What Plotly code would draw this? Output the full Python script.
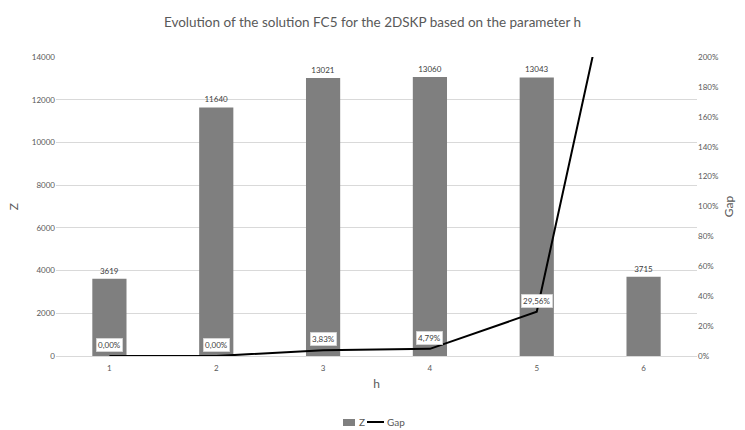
import plotly.graph_objects as go

# Values per parameter h
h_values = [1, 2, 3, 4, 5, 6]
h_labels = ["1", "2", "3", "4", "5", "6"]
z_values = [3619, 11640, 13021, 13060, 13043, 3715]
gap_values = [0.0, 0.0, 0.0383, 0.0479, 0.2956, 3.56]

GAP_MAX = 2.0
FONT = "Lato, 'Open Sans', sans-serif"
TEXT_COLOR = "#595959"
BAR_COLOR = "#7f7f7f"

W, H = 745, 430
M_L, M_R, M_T, M_B = 56, 48, 57, 74
PLOT_W = W - M_L - M_R
PLOT_H = H - M_T - M_B


def px_to_paper(px, py):
    return (px - M_L) / PLOT_W, (H - M_B - py) / PLOT_H


fig = go.Figure()

fig.add_trace(go.Bar(
    x=h_values, y=z_values, name="Z",
    marker=dict(color=BAR_COLOR, line=dict(width=0)),
    width=0.32,
    text=[str(v) for v in z_values],
    textposition="outside",
    textfont=dict(size=8, color="#404040", family=FONT),
    cliponaxis=False,
    showlegend=False,
))

fig.add_trace(go.Scatter(
    x=h_values, y=gap_values, name="Gap", yaxis="y2",
    mode="lines", line=dict(color="#000000", width=2),
    showlegend=False,
))

# Boxed value labels on the Gap line (only those inside the visible range)
for xv, gv in zip(h_values, gap_values):
    if gv <= GAP_MAX:
        fig.add_annotation(
            x=xv, y=gv, xref="x", yref="y2",
            text=f"{gv * 100:.2f}".replace(".", ",") + "%",
            showarrow=False, yshift=11,
            font=dict(size=8, color="#404040", family=FONT),
            bgcolor="#ffffff", bordercolor="#d0d0d0", borderwidth=0.6, borderpad=1.5,
        )

# Compact legend below the plot
x0, y0 = px_to_paper(343, 419)
x1, y1 = px_to_paper(355, 426)
fig.add_shape(type="rect", xref="paper", yref="paper", x0=x0, y0=y0, x1=x1, y1=y1,
              fillcolor=BAR_COLOR, line=dict(width=0))
tx, ty = px_to_paper(357, 422)
fig.add_annotation(x=tx, y=ty, xref="paper", yref="paper", text="Z", showarrow=False,
                   xanchor="left", yanchor="middle",
                   font=dict(size=10, color=TEXT_COLOR, family=FONT))
lx0, ly = px_to_paper(367, 422)
lx1, _ = px_to_paper(384, 422)
fig.add_shape(type="line", xref="paper", yref="paper", x0=lx0, y0=ly, x1=lx1, y1=ly,
              line=dict(color="#000000", width=2))
gx, gy = px_to_paper(385, 422)
fig.add_annotation(x=gx, y=gy, xref="paper", yref="paper", text="Gap", showarrow=False,
                   xanchor="left", yanchor="middle",
                   font=dict(size=10, color=TEXT_COLOR, family=FONT))

fig.update_layout(
    width=W, height=H,
    margin=dict(l=M_L, r=M_R, t=M_T, b=M_B),
    paper_bgcolor="#ffffff", plot_bgcolor="#ffffff",
    font=dict(family=FONT, color=TEXT_COLOR),
    title=dict(
        text="Evolution of the solution FC5 for the 2DSKP based on the parameter h",
        x=0.5, xanchor="center", y=1 - 22 / H, yanchor="middle",
        font=dict(size=13.5, color=TEXT_COLOR, family=FONT),
    ),
    showlegend=False,
    xaxis=dict(
        range=[0.5, 6.5], tickmode="array", tickvals=h_values, ticktext=h_labels,
        showgrid=False, zeroline=False,
        showline=True, linecolor="#d9d9d9", linewidth=1,
        ticks="outside", ticklen=4, tickcolor="rgba(0,0,0,0)",
        tickfont=dict(size=8, color=TEXT_COLOR),
        title=dict(text="h", font=dict(size=12, color=TEXT_COLOR), standoff=8),
    ),
    yaxis=dict(
        range=[0, 14000], dtick=2000, tickformat="d",
        showgrid=True, gridcolor="#d9d9d9", gridwidth=1,
        zeroline=False, showline=False, ticks="",
        tickfont=dict(size=8, color=TEXT_COLOR),
        title=dict(text="Z", font=dict(size=12, color=TEXT_COLOR), standoff=10),
    ),
    yaxis2=dict(
        overlaying="y", side="right",
        range=[0, GAP_MAX], dtick=0.2, tickformat=".0%",
        showgrid=False, zeroline=False, showline=False, ticks="",
        tickfont=dict(size=8, color=TEXT_COLOR),
        title=dict(text="Gap", font=dict(size=12, color=TEXT_COLOR), standoff=6),
    ),
)

fig.write_html("out.html")
